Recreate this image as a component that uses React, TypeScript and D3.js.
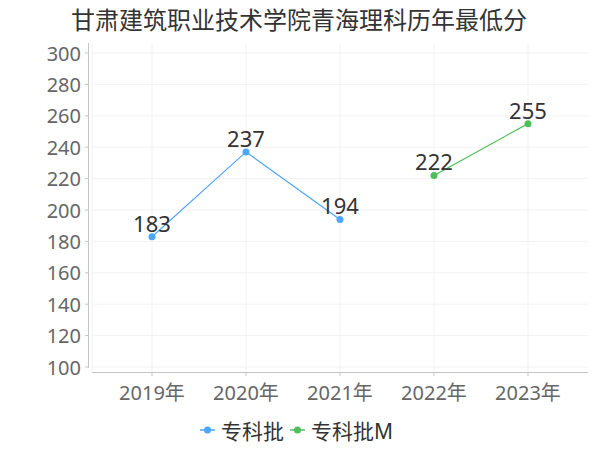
import React from "react";
import * as d3 from "d3";

const title = "甘肃建筑职业技术学院青海理科历年最低分";
const years = ["2019年", "2020年", "2021年", "2022年", "2023年"];
const yTicks = [100, 120, 140, 160, 180, 200, 220, 240, 260, 280, 300];
const seriesNames = ["专科批", "专科批M"];
const seriesColors = ["#4ea5fd", "#4cbf58"];
const seriesA = [
  { year: "2019年", value: 183 },
  { year: "2020年", value: 237 },
  { year: "2021年", value: 194 },
];
const seriesB = [
  { year: "2022年", value: 222 },
  { year: "2023年", value: 255 },
];

const FONT = "'Noto Sans', 'Noto Sans CJK SC', sans-serif";

export default function App() {
  const W = 600, H = 450;
  const x = d3.scaleBand<string>().domain(years).range([105, 575]);
  const cx = (d: string) => (x(d) as number) + x.bandwidth() / 2;
  const y = d3.scaleLinear().domain([100, 300]).range([367, 53]);
  const line = d3
    .line<{ year: string; value: number }>()
    .x((d) => cx(d.year))
    .y((d) => y(d.value));
  const series = [seriesA, seriesB];
  const plotLeft = 92, plotRight = 588, plotTop = 43, axisY = 372;

  const legendItems = [
    { name: seriesNames[0], color: seriesColors[0], x: 200 },
    { name: seriesNames[1], color: seriesColors[1], x: 290 },
  ];

  return (
    <svg width={W} height={H} style={{ position: "absolute", left: 0, top: 0 }} fontFamily={FONT}>
      <rect width={W} height={H} fill="#fff" />
      <text x={299} y={19} textAnchor="middle" dominantBaseline="central" fontSize={24} fill="#333">
        {title}
      </text>
      {/* grid */}
      {yTicks.map((t) => (
        <line key={"h" + t} x1={plotLeft} x2={plotRight} y1={y(t)} y2={y(t)} stroke="#f2f2f2" />
      ))}
      <line x1={plotLeft} x2={plotLeft} y1={plotTop} y2={axisY} stroke="#f2f2f2" />
      {years.map((yr) => (
        <line key={"v" + yr} x1={cx(yr)} x2={cx(yr)} y1={plotTop} y2={axisY} stroke="#f2f2f2" />
      ))}
      {/* y axis */}
      <line x1={88.5} x2={88.5} y1={plotTop} y2={368} stroke="#c4c4c4" />
      {yTicks.map((t) => (
        <g key={"yt" + t}>
          <line x1={85} x2={88.5} y1={y(t)} y2={y(t)} stroke="#c4c4c4" />
          <text x={81} y={y(t)} textAnchor="end" dominantBaseline="central" fontSize={20} fill="#666">
            {t}
          </text>
        </g>
      ))}
      {/* x axis */}
      <line x1={plotLeft} x2={plotRight} y1={axisY + 0.5} y2={axisY + 0.5} stroke="#c4c4c4" />
      {years.map((yr) => (
        <g key={"xt" + yr}>
          <line x1={cx(yr)} x2={cx(yr)} y1={axisY} y2={axisY + 4} stroke="#c4c4c4" />
          <text x={cx(yr)} y={392} textAnchor="middle" dominantBaseline="central" fontSize={20} fill="#666">
            {yr}
          </text>
        </g>
      ))}
      {/* series */}
      {series.map((s, i) => (
        <g key={"s" + i}>
          <path d={line(s) || ""} fill="none" stroke={seriesColors[i]} strokeWidth={1.2} />
          {s.map((d) => (
            <circle key={d.year} cx={cx(d.year)} cy={y(d.value)} r={3.5} fill={seriesColors[i]} />
          ))}
          {s.map((d) => (
            <text key={"l" + d.year} x={cx(d.year)} y={y(d.value) - 5} textAnchor="middle" fontSize={22} fill="#333">
              {d.value}
            </text>
          ))}
        </g>
      ))}
      {/* legend */}
      {legendItems.map((it) => (
        <g key={it.name}>
          <line x1={it.x} x2={it.x + 15} y1={430} y2={430} stroke={it.color} strokeWidth={1.5} />
          <circle cx={it.x + 7.5} cy={430} r={3.5} fill={it.color} />
          <text x={it.x + 21} y={431} dominantBaseline="central" fontSize={21} fill="#333">
            {it.name}
          </text>
        </g>
      ))}
    </svg>
  );
}
